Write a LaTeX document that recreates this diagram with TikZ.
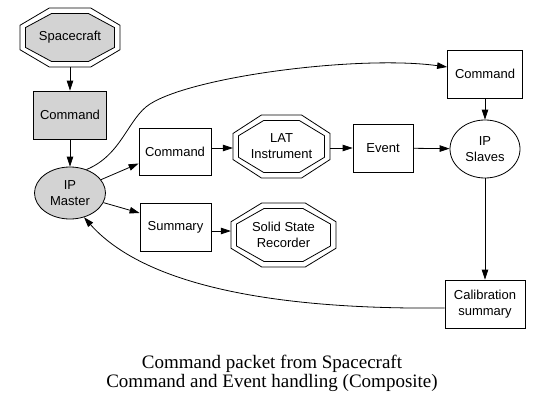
\documentclass[tikz,border=0pt]{standalone}
\usepackage{fontspec}
\setmainfont{Liberation Sans}
\newfontfamily\capfont{Liberation Serif}
\usetikzlibrary{shapes.geometric,arrows.meta,calc}
\definecolor{gvgray}{RGB}{211,211,211}
\newcommand\octa[5]{%
\draw[#5,shift={(#1,#2)}] (0.414*#3,-#4) -- (#3,-0.414*#4) -- (#3,0.414*#4) -- (0.414*#3,#4) -- (-0.414*#3,#4) -- (-#3,0.414*#4) -- (-#3,-0.414*#4) -- (-0.414*#3,-#4) -- cycle;}
\tikzset{
 lbl/.style={font=\fontsize{13}{16}\selectfont, align=center, inner sep=0pt},
 boxn/.style={lbl, draw, rectangle, line width=0.8pt},
 elln/.style={lbl, draw, ellipse, line width=0.8pt},
 octn/.style={lbl, rectangle},
 octline/.style={line width=0.8pt},
 arr/.style={line width=0.8pt, -{Triangle[length=10pt,width=6.5pt]}},
}
\begin{document}
\begin{tikzpicture}[x=1pt,y=-1pt]
\useasboundingbox[fill=white] (0,0) rectangle (543,407);
% octagon outlines
\octa{70}{37.5}{50}{29.5}{octline}
\octa{70}{37.5}{44.5}{24}{octline,fill=gvgray}
\octa{281.5}{146.5}{48.5}{31.5}{octline}
\octa{281.5}{146.5}{43}{26}{octline}
\octa{283.5}{235}{52.5}{32}{octline}
\octa{283.5}{235}{47}{26.5}{octline}
% nodes
\node[octn, minimum width=100pt, minimum height=59pt] (sc) at (70,37.5) {Spacecraft};
\node[boxn, fill=gvgray, minimum width=73pt, minimum height=48pt] (cmd1) at (70,115) {Command};
\node[elln, fill=gvgray, minimum width=71pt, minimum height=52pt] (ipm) at (70,193) {IP\\Master};
\node[boxn, minimum width=72pt, minimum height=47pt] (cmd2) at (175,151.5) {Command};
\node[boxn, minimum width=71pt, minimum height=48pt] (sum) at (175.5,227) {Summary};
\node[octn, minimum width=97pt, minimum height=63pt] (lat) at (281.5,146.5) {LAT\\Instrument};
\node[octn, minimum width=105pt, minimum height=64pt] (ssr) at (283.5,235) {Solid State\\Recorder};
\node[boxn, minimum width=60pt, minimum height=48pt] (ev) at (383,148) {Event};
\node[elln, minimum width=70pt, minimum height=58pt] (ips) at (485,149) {IP\\Slaves};
\node[boxn, minimum width=75pt, minimum height=48pt] (cmdtr) at (485,74) {Command};
\node[boxn, minimum width=80pt, minimum height=48pt] (cal) at (485,304) {Calibration\\summary};
% edges
\draw[arr] (sc.south) -- (cmd1.north);
\draw[arr] (cmd1) -- (ipm);
\draw[arr] (ipm) -- ($(cmd2.west)+(0,12)$);
\draw[arr] (ipm) -- ($(sum.west)+(0,-14)$);
\draw[arr] (cmd2.east |- ev) -- (lat.west |- ev);
\draw[arr] (lat.east |- ev) -- (ev.west);
\draw[arr] (ev) -- (ips);
\draw[arr] ($(sum.east)+(0,4)$) coordinate (s1) -- (s1 -| ssr.west);
\draw[arr] (cmdtr) -- (ips);
\draw[arr] (ips.south) -- (cal.north);
\draw[arr] (ipm.55) .. controls (122,155) and (128,118) .. (150,104)
  .. controls (194,76) and (360,55) .. ($(cmdtr.west)+(0,-7)$);
\draw[arr] ($(cal.west)+(0,4)$) .. controls (250,310) and (138,278) .. (ipm.-60);
% caption
\node[font=\capfont\fontsize{19}{19}\selectfont, anchor=base] (cap1) at (272,368) {Command packet from Spacecraft};
\node[font=\capfont\fontsize{19}{19}\selectfont, anchor=base] (cap2) at (272,387) {Command and Event handling (Composite)};
\end{tikzpicture}
\end{document}
